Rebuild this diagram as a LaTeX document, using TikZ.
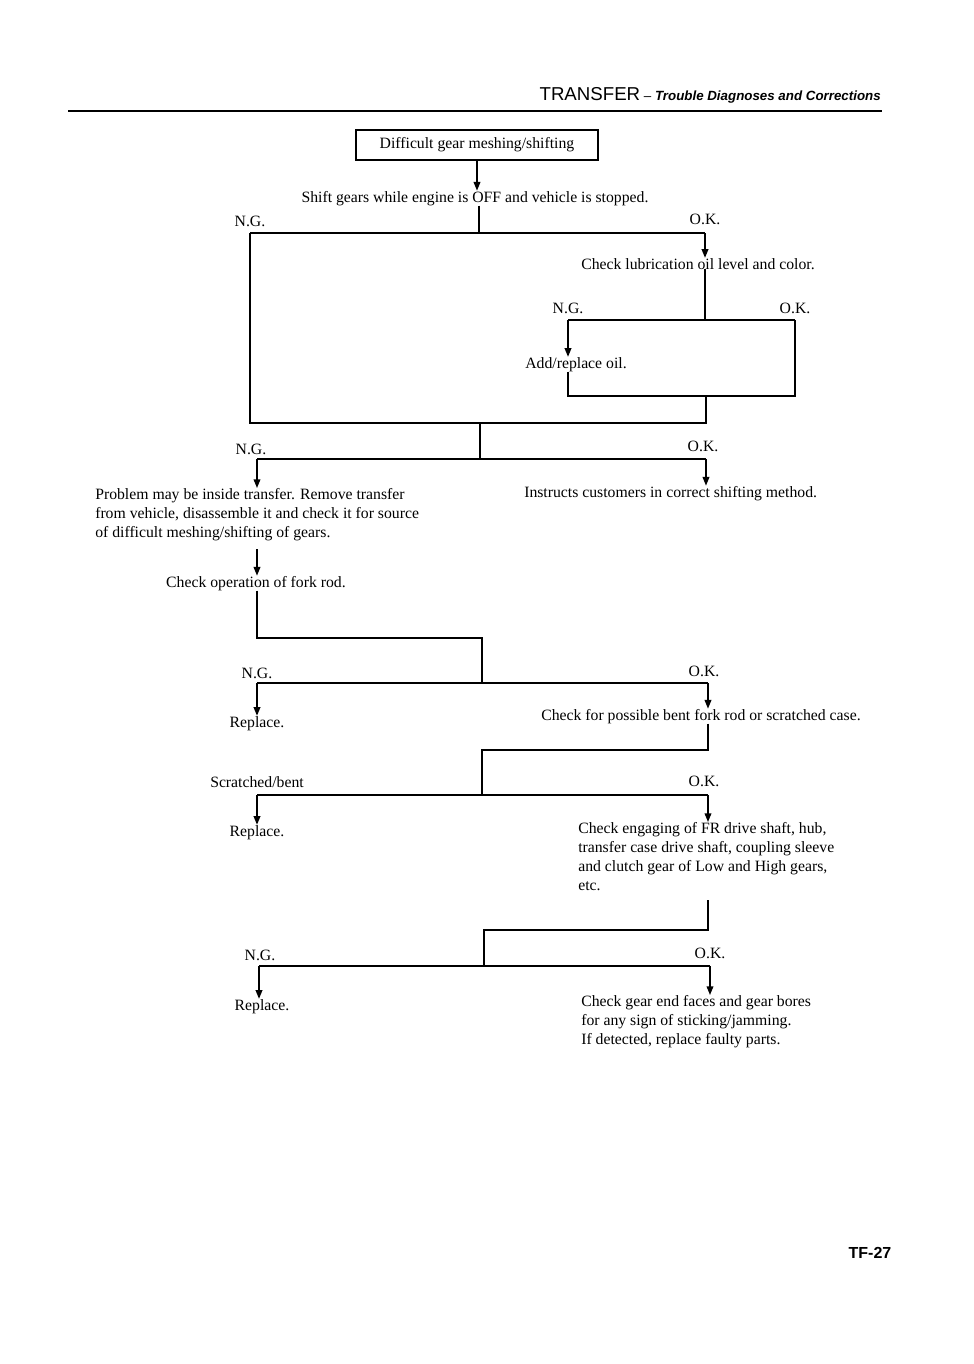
\documentclass[tikz,border=0pt]{standalone}
\usepackage{fontspec}
\setmainfont{Liberation Serif}
\setsansfont{Liberation Sans}
\usetikzlibrary{arrows.meta}
\begin{document}
\begin{tikzpicture}[x=0.75pt,y=-0.75pt,
  txt/.style={inner sep=0pt,font=\fontsize{11.8}{14.25}\selectfont},
  ml/.style={txt,align=left,anchor=north west},
  ln/.style={line width=1.1pt},
  arr/.style={ln,-{Triangle[length=6.5pt,width=5pt]}},
  lbl/.style={txt,anchor=base}]
\useasboundingbox (0,0) rectangle (974,1364);
% header
\node[inner sep=0pt,anchor=base east,font=\sffamily] (hdr) at (881,100)
  {{\fontsize{14}{16}\selectfont TRANSFER} {\fontsize{10}{12}\selectfont -- \textbf{\textit{Trouble Diagnoses and Corrections}}}};
\coordinate (rl) at (68,111); \coordinate (rr) at (882,111);
\draw[line width=2pt] (rl) -- (rr);
% start box
\node[draw,line width=1.6pt,minimum width=182pt,minimum height=22.5pt,inner sep=0pt,font=\fontsize{11.8}{13}\selectfont] (start) at (477,145) {Difficult gear meshing/shifting};
\node[lbl] (s1) at (475,202) {Shift gears while engine is OFF and vehicle is stopped.};
\draw[arr] (start.south) -- (s1.north -| start.south);
\coordinate (j1) at (479,233);
\coordinate (ngL) at (250,233);
\coordinate (ok1) at (705,233);
\node[lbl] (ng1) at (250,226) {N.G.};
\node[lbl] (ok1t) at (705,224) {O.K.};
\draw[ln] (s1.south -| j1) -- (j1);
\draw[ln] (ngL) -- (ok1);
% lubrication
\node[lbl] (lub) at (698,269) {Check lubrication oil level and color.};
\draw[arr] (ok1) -- (ok1 |- lub.north);
\coordinate (j2) at (705,320);
\coordinate (ng2c) at (568,320);
\coordinate (ok2c) at (795,320);
\node[lbl] (ng2) at (568,313) {N.G.};
\node[lbl] (ok2) at (795,313) {O.K.};
\draw[ln] (lub.south -| j2) -- (j2);
\draw[ln] (ng2c) -- (ok2c);
\node[lbl] (oil) at (576,368) {Add/replace oil.};
\draw[arr] (ng2c) -- (ng2c |- oil.north);
\coordinate (bl) at (568,396);
\coordinate (br) at (795,396);
\coordinate (bm) at (706,396);
\draw[ln] (oil.south -| bl) -- (bl) -- (br) -- (ok2c);
\coordinate (cR) at (706,423);
\coordinate (cL) at (250,423);
\coordinate (cM) at (480,423);
\draw[ln] (bm) -- (cR) -- (cL) -- (ngL);
% second split
\coordinate (j3) at (480,459);
\coordinate (ng3c) at (257,459);
\coordinate (ok3c) at (706,459);
\draw[ln] (cM) -- (j3);
\draw[ln] (ng3c) -- (ok3c);
\node[lbl] (ng3) at (251,454) {N.G.};
\node[lbl] (ok3) at (703,451) {O.K.};
\node[ml] (prob) at (95,488) {Problem may be inside transfer. Remove transfer\\from vehicle, disassemble it and check it for source\\of difficult meshing/shifting of gears.};
\node[txt,anchor=base west] (instr) at (524,497) {Instructs customers in correct shifting method.};
\draw[arr] (ng3c) -- (ng3c |- prob.north);
\draw[arr] (ok3c) -- (ok3c |- instr.north);
% fork rod
\node[lbl] (fork) at (256,587) {Check operation of fork rod.};
\coordinate (pa) at (257,549);
\draw[arr] (pa) -- (pa |- fork.north);
\coordinate (f1) at (257,638);
\coordinate (f2) at (482,638);
\coordinate (j4) at (482,683);
\coordinate (ng4c) at (257,683);
\coordinate (ok4c) at (708,683);
\draw[ln] (fork.south -| f1) -- (f1) -- (f2) -- (j4);
\draw[ln] (ng4c) -- (ok4c);
\node[lbl] (ng4) at (257,678) {N.G.};
\node[lbl] (ok4) at (704,676) {O.K.};
\node[lbl] (rep1) at (257,727) {Replace.};
\node[lbl] (bent) at (701,720) {Check for possible bent fork rod or scratched case.};
\draw[arr] (ng4c) -- (ng4c |- rep1.north);
\draw[arr] (ok4c) -- (ok4c |- bent.north);
% scratched
\coordinate (g1) at (708,750);
\coordinate (g2) at (482,750);
\coordinate (j5) at (482,795);
\coordinate (ng5c) at (257,795);
\coordinate (ok5c) at (708,795);
\draw[ln] (bent.south -| g1) -- (g1) -- (g2) -- (j5);
\draw[ln] (ng5c) -- (ok5c);
\node[lbl] (scr) at (257,787) {Scratched/bent};
\node[lbl] (ok5) at (704,786) {O.K.};
\node[lbl] (rep2) at (257,836) {Replace.};
\node[ml] (eng) at (578,822) {Check engaging of FR drive shaft, hub,\\transfer case drive shaft, coupling sleeve\\and clutch gear of Low and High gears,\\etc.};
\draw[arr] (ng5c) -- (ng5c |- rep2.north);
\draw[arr] (ok5c) -- (ok5c |- eng.north);
% last split
\coordinate (h0) at (708,900);
\coordinate (h1) at (708,930);
\coordinate (h2) at (484,930);
\coordinate (j6) at (484,966);
\coordinate (ng6c) at (259,966);
\coordinate (ok6c) at (710,966);
\draw[ln] (h0) -- (h1) -- (h2) -- (j6);
\draw[ln] (ng6c) -- (ok6c);
\node[lbl] (ng6) at (260,960) {N.G.};
\node[lbl] (ok6) at (710,958) {O.K.};
\node[lbl] (rep3) at (262,1010) {Replace.};
\node[ml] (gear) at (581,995) {Check gear end faces and gear bores\\for any sign of sticking/jamming.\\If detected, replace faulty parts.};
\draw[arr] (ng6c) -- (ng6c |- rep3.north);
\draw[arr] (ok6c) -- (ok6c |- gear.north);
% page number
\node[inner sep=0pt,anchor=base,font=\sffamily\bfseries\fontsize{12}{14}\selectfont] (pg) at (870,1258) {TF-27};
\end{tikzpicture}
\end{document}
